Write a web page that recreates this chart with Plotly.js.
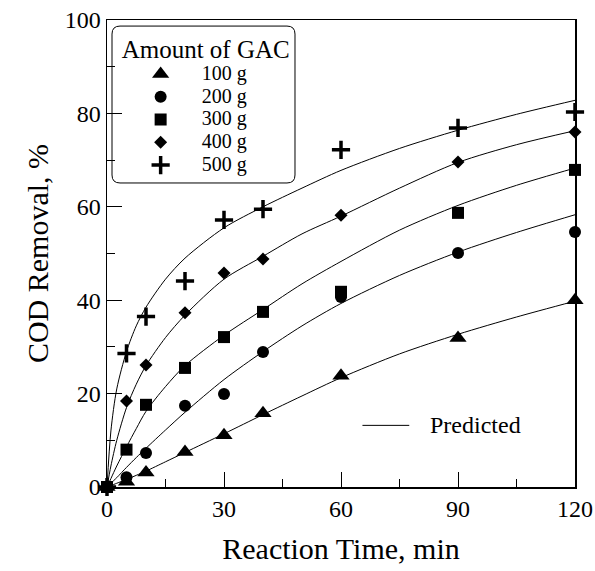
<!DOCTYPE html>
<html>
<head>
<meta charset="utf-8">
<script src="https://cdn.plot.ly/plotly-3.0.1.min.js"></script>
<style>html,body{margin:0;padding:0;background:#fff;}#chart{width:595px;height:571px;}</style>
</head>
<body>
<div id="chart"></div>
<script>
// Measured data (reaction time, min ; COD removal, %)
var time = [0, 5, 10, 20, 30, 40, 60, 90, 120];
var cod100 = [0, 1.1, 3.1, 7.5, 11.1, 15.8, 23.8, 31.9, 40.0];
var cod200 = [0, 2.1, 7.3, 17.4, 19.9, 28.9, 40.7, 50.1, 54.6];
var cod300 = [0, 8.0, 17.6, 25.5, 32.1, 37.5, 41.8, 58.7, 67.9];
var cod400 = [0, 18.4, 26.1, 37.3, 45.8, 48.8, 58.2, 69.6, 76.0];
var cod500 = [0, 28.6, 36.5, 44.1, 57.2, 59.5, 72.2, 76.9, 80.3];

// Predicted curves
var predTime = [0, 1, 2.5, 5, 7.5, 10, 15, 20, 30, 40, 50, 60, 75, 90, 105, 120];
var pred100 = [0, 0.3, 0.8, 1.6, 2.5, 3.4, 5.4, 7.4, 11.4, 15.5, 19.5, 23.4, 28.5, 32.7, 36.4, 39.8];
var pred200 = [0, 0.8, 2.0, 4.2, 6.3, 8.3, 12.2, 16.0, 23.0, 29.0, 34.5, 39.3, 45.3, 50.3, 54.5, 58.3];
var pred300 = [0, 1.8, 4.5, 8.6, 12.5, 16.2, 21.5, 26.0, 32.5, 38.0, 43.5, 48.3, 55.0, 60.3, 64.6, 68.3];
var pred400 = [0, 4.5, 10.0, 17.0, 22.0, 26.0, 32.0, 36.8, 44.5, 49.4, 54.2, 58.0, 64.0, 69.5, 73.3, 76.3];
var pred500 = [0, 12.0, 21.0, 29.0, 34.5, 38.5, 44.5, 49.0, 55.5, 60.0, 64.0, 67.8, 72.5, 76.4, 79.8, 82.8];

var seriesNames = ['100 g', '200 g', '300 g', '400 g', '500 g'];
var legendTitle = 'Amount of GAC';
var predictedLabel = 'Predicted';
var xTicks = [0, 30, 60, 90, 120];
var yTicks = [0, 20, 40, 60, 80, 100];

var measured = [cod100, cod200, cod300, cod400, cod500];
var predicted = [pred100, pred200, pred300, pred400, pred500];
var symbols = ['triangle-up', 'circle', 'square', 'diamond', 'cross-thin-open'];
var sizes = [15, 12, 12, 10, 13];

var FONT = 'Liberation Serif, Times New Roman, serif';
var traces = [];
predicted.forEach(function (p) {
  traces.push({
    x: predTime, y: p, type: 'scatter', mode: 'lines',
    line: {color: '#000', width: 1, shape: 'spline', smoothing: 0.8},
    showlegend: false, hoverinfo: 'skip'
  });
});
measured.forEach(function (m, i) {
  var mk = {symbol: symbols[i], size: sizes[i], color: '#000'};
  if (symbols[i] === 'cross-thin-open') mk.line = {color: '#000', width: 3.5};
  traces.push({
    x: time, y: m, type: 'scatter', mode: 'markers',
    name: '<span style="font-size:20px">' + seriesNames[i] + '</span>',
    marker: mk, cliponaxis: false
  });
});

// rounded legend box (paper coords)
var bx0 = 0.0107, bx1 = 0.4017, by0 = 0.651, by1 = 0.987, r = 0.0171;
var boxPath = 'M' + (bx0 + r) + ',' + by0 + ' L' + (bx1 - r) + ',' + by0 +
  ' Q' + bx1 + ',' + by0 + ' ' + bx1 + ',' + (by0 + r) +
  ' L' + bx1 + ',' + (by1 - r) + ' Q' + bx1 + ',' + by1 + ' ' + (bx1 - r) + ',' + by1 +
  ' L' + (bx0 + r) + ',' + by1 + ' Q' + bx0 + ',' + by1 + ' ' + bx0 + ',' + (by1 - r) +
  ' L' + bx0 + ',' + (by0 + r) + ' Q' + bx0 + ',' + by0 + ' ' + (bx0 + r) + ',' + by0 + ' Z';

var layout = {
  width: 595, height: 571,
  margin: {l: 107, r: 20, t: 20, b: 84},
  paper_bgcolor: '#fff', plot_bgcolor: '#fff',
  font: {family: FONT, color: '#000'},
  showlegend: true,
  xaxis: {
    range: [0, 120], tickvals: xTicks, ticks: 'inside', ticklen: 15, tickwidth: 1,
    tickcolor: '#000', showline: true, linecolor: '#000', linewidth: 1.5, mirror: true,
    showgrid: false, zeroline: false, tickfont: {family: FONT, size: 24, color: '#000'},
    minor: {dtick: 15, ticks: 'inside', ticklen: 8, tickcolor: '#000', showgrid: false},
    title: {text: 'Reaction Time, min', font: {family: FONT, size: 30, color: '#000'}, standoff: 16},
    automargin: false
  },
  yaxis: {
    range: [0, 100], tickvals: yTicks, ticks: 'inside', ticklen: 15, tickwidth: 1,
    tickcolor: '#000', showline: true, linecolor: '#000', linewidth: 1.5, mirror: true,
    showgrid: false, zeroline: false, tickfont: {family: FONT, size: 24, color: '#000'},
    minor: {dtick: 10, ticks: 'inside', ticklen: 8, tickcolor: '#000', showgrid: false},
    title: {text: 'COD Removal, %', font: {family: FONT, size: 30, color: '#000'}, standoff: 7},
    automargin: false
  },
  legend: {
    x: 0.027, y: 0.989, xanchor: 'left', yanchor: 'top',
    bgcolor: 'rgba(0,0,0,0)', borderwidth: 0, itemwidth: 72,
    title: {text: legendTitle, font: {family: FONT, size: 25, color: '#000'}},
    font: {family: FONT, size: 15.2, color: '#000'}, tracegroupgap: 0
  },
  shapes: [
    {type: 'path', xref: 'paper', yref: 'paper', path: boxPath, line: {color: '#000', width: 1}, layer: 'below'},
    {type: 'line', xref: 'x', yref: 'y', x0: 65.5, x1: 77.5, y0: 13.2, y1: 13.2, line: {color: '#000', width: 1}}
  ],
  annotations: [
    {xref: 'x', yref: 'y', x: 82.3, y: 13.2, xanchor: 'left', yanchor: 'middle', showarrow: false,
     text: predictedLabel, font: {family: FONT, size: 24, color: '#000'}}
  ]
};

Plotly.newPlot('chart', traces, layout, {displayModeBar: false, staticPlot: true});
</script>
</body>
</html>
